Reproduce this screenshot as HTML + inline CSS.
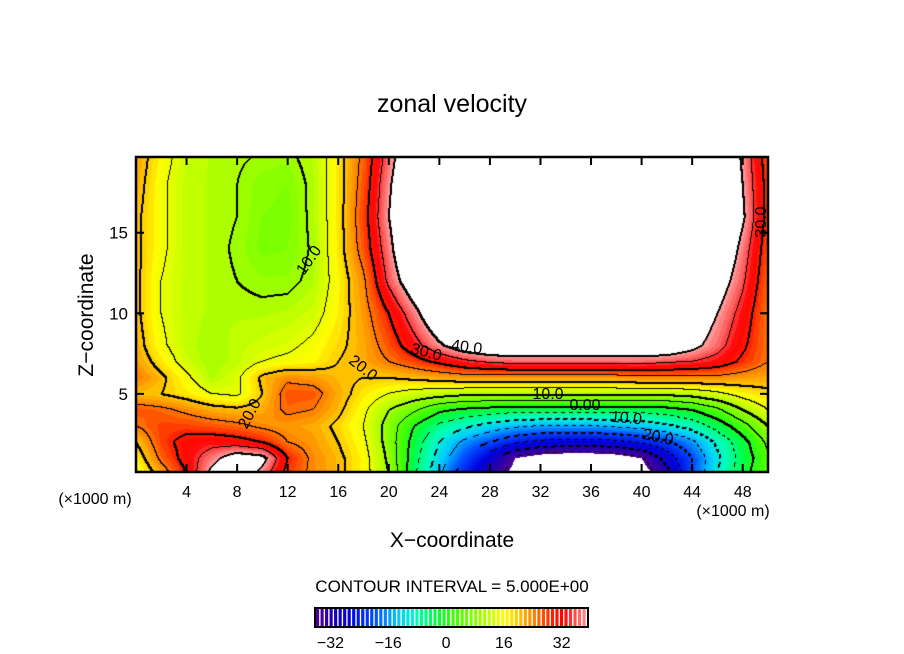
<!DOCTYPE html>
<html><head><meta charset="utf-8"><style>
body{margin:0;background:#fff;width:904px;height:654px;overflow:hidden;position:relative;font-family:"Liberation Sans",sans-serif}
</style></head><body>
<svg id="svg" width="904" height="654" style="position:absolute;left:0;top:0">
<foreignObject x="136" y="157" width="632" height="315">
<canvas id="cv" width="632" height="315" xmlns="http://www.w3.org/1999/xhtml"></canvas>
</foreignObject>
<g id="axes"></g>
<g id="cbar"></g>
<text x="452" y="112" font-size="25" text-anchor="middle" font-family="Liberation Sans">zonal velocity</text>
<text x="452" y="547" font-size="21" text-anchor="middle" font-family="Liberation Sans">X−coordinate</text>
<text x="0" y="0" font-size="21" text-anchor="middle" font-family="Liberation Sans" transform="translate(93,315) rotate(-90)">Z−coordinate</text>
<text x="95" y="504" font-size="16" text-anchor="middle" font-family="Liberation Sans">(×1000 m)</text>
<text x="733" y="516" font-size="16" text-anchor="middle" font-family="Liberation Sans">(×1000 m)</text>
<text x="452" y="592" font-size="17" text-anchor="middle" font-family="Liberation Sans">CONTOUR INTERVAL = 5.000E+00</text>
<g font-family="Liberation Sans" font-size="16">
<text transform="translate(313,263) rotate(-55)" text-anchor="middle">10.0</text>
<text transform="translate(360,372) rotate(38)" text-anchor="middle">20.0</text>
<text transform="translate(254,416) rotate(-62)" text-anchor="middle">20.0</text>
<text transform="translate(425,357) rotate(15)" text-anchor="middle">30.0</text>
<text transform="translate(466,352) rotate(8)" text-anchor="middle">40.0</text>
<text transform="translate(548,399)" text-anchor="middle">10.0</text>
<text transform="translate(585,410)" text-anchor="middle">0.00</text>
<text transform="translate(626,423) rotate(5)" text-anchor="middle">10.0</text>
<text transform="translate(657,442) rotate(12)" text-anchor="middle">20.0</text>
<text transform="translate(766,222) rotate(-90)" text-anchor="middle">30.0</text>
</g>
</svg>
<script>
const xGrid=[0,2,4,6,8,10,12,14,16,18,20,22,24,26,28,30,32,34,36,38,40,42,44,46,48,50];
const zGrid=[0,1,2,3,4,5,6,7,8,10,12,14,16,18,20];
const uZ0 =[14,22,30,42,46,38,28,24,21,17,10,-4,-14,-24,-32,-38,-42,-44,-44,-42,-39,-32,-20,-10,-2,5];
const uZ1 =[17,26,32,38,44,42,30,24,21,17,9,-3,-12,-20,-28,-36,-39,-40,-40,-39,-36,-28,-20,-11,-3,4];
const uZ2 =[20,28,32,33,32,30,25,23,20,16,8,-2,-10,-16,-20,-24,-26,-27,-27,-26,-24,-21,-16,-9,-2,6];
const uZ3 =[25,28,28,27,26,24,23,22,19,15,8,0,-6,-9,-12,-14,-15,-15,-15,-14,-13,-11,-8,-3,3,10];
const uZ4 =[27,26,24,22,21,22,26,25,21,16,10,6,1,-1,-2,-3,-3,-3,-3,-3,-3,-2,0,4,10,15];
const uZ5 =[21,20,18,15,14,20,27,27,22,18,15,13,12,11,11,11,11,11,11,11,11,11,12,14,17,19];
const uZ6 =[25,21,16,11,14,21,24,23,21,20,20,21,22,23,23,23,23,23,23,23,24,24,24,24,23,22];
const uZ7 =[23,18,13,10,12,15,16,17,20,22,25,28,31,34,36,37,37,37,37,37,37,36,35,33,29,25];
const uZ8 =[22,16,12,10,12,13,14,16,19,22,27,33,39,44,46,46,46,46,46,46,46,46,42,37,31,25];
const uZ10=[21,15,12,11,11,11,11.5,13,17.5,23,30,38,47,50,50,50,50,50,50,50,50,50,46,40,33,25];
const uZ12=[21,15,12,11,10,9,9,11,17,24,36,45,50,50,50,50,50,50,50,50,50,50,50,44,36,26];
const uZ14=[21,16,12,11,9.5,7,7.5,10.5,18,27,38,50,50,50,50,50,50,50,50,50,50,50,50,48,38,27];
const uZ16=[21,16,12,11,10,7.5,7,11,18,28,40,50,50,50,50,50,50,50,50,50,50,50,50,50,41,28];
const uZ18=[22,16,12,11,10,8,7.5,11,18,27,39,49,50,50,50,50,50,50,50,50,50,50,50,49,40,28];
const uZ20=[23,17,13,11,10.5,10,9.5,11.5,18,26,37,48,50,50,50,50,50,50,50,50,50,50,50,48,39,27];
const uRows=[uZ0,uZ1,uZ2,uZ3,uZ4,uZ5,uZ6,uZ7,uZ8,uZ10,uZ12,uZ14,uZ16,uZ18,uZ20];
const xTicks=[4,8,12,16,20,24,28,32,36,40,44,48];
const zTicks=[5,10,15];
const cbTicks=[-32,-16,0,16,32];

const X0=0,X1=50,Z0=0.15,Z1=19.7,L=136,R=768,T=157,B=472;
function sx(x){return L+(x-X0)/(X1-X0)*(R-L);}
function sz(z){return B-(z-Z0)/(Z1-Z0)*(B-T);}
const stops=[[-37,[90,0,150]],[-32,[32,0,176]],[-27,[0,0,224]],[-20,[0,80,255]],[-14,[0,200,255]],[-9,[0,255,192]],[-3,[0,255,64]],[2,[64,255,0]],[8,[144,255,0]],[13,[216,255,0]],[16,[255,255,0]],[20,[255,192,0]],[24,[255,128,0]],[29,[255,32,0]],[32,[255,0,0]],[36,[255,96,96]],[40,[255,176,176]]];
function cmap(v){
  if(v<=stops[0][0])return stops[0][1];
  for(let i=1;i<stops.length;i++){if(v<=stops[i][0]){const a=stops[i-1],b=stops[i],t=(v-a[0])/(b[0]-a[0]);return a[1].map((c,k)=>Math.round(c+(b[1][k]-c)*t));}}
  return stops[stops.length-1][1];
}
function field(x,z){
  let i=Math.min(xGrid.length-2,Math.max(0,Math.floor((x-xGrid[0])/(xGrid[1]-xGrid[0]))));
  let j=0;while(j<zGrid.length-2&&z>zGrid[j+1])j++;
  const tx=(x-xGrid[i])/(xGrid[i+1]-xGrid[i]),tz=Math.max(0,Math.min(1,(z-zGrid[j])/(zGrid[j+1]-zGrid[j])));
  const a=uRows[j][i],b=uRows[j][i+1],c=uRows[j+1][i],d=uRows[j+1][i+1];
  return (a*(1-tx)+b*tx)*(1-tz)+(c*(1-tx)+d*tx)*tz;
}
const cv=document.getElementById('cv'),ctx=cv.getContext('2d');
const W=cv.width,H=cv.height,img=ctx.createImageData(W,H),V=new Float32Array(W*H);
for(let py=0;py<H;py++)for(let px=0;px<W;px++){
  const x=X0+(px+0.5)/W*(X1-X0),z=Z1-(py+0.5)/H*(Z1-Z0);V[py*W+px]=field(x,z);}
const LO=-36,HI=40;
for(let p=0;p<W*H;p++){const v=V[p];let c;
  if(v>HI||v<LO)c=[255,255,255];else c=cmap(Math.floor(v*0.8)/0.8);
  img.data[p*4]=c[0];img.data[p*4+1]=c[1];img.data[p*4+2]=c[2];img.data[p*4+3]=255;}
function blk(px,py){if(px<0||py<0||px>=W||py>=H)return;const p=(py*W+px)*4;img.data[p]=0;img.data[p+1]=0;img.data[p+2]=0;}
for(let py=0;py<H;py++)for(let px=0;px<W;px++){
  const v=V[py*W+px],b=Math.floor(v/5);
  const nb=[[1,0],[0,1]];
  for(const [dx,dy] of nb){const qx=px+dx,qy=py+dy;if(qx>=W||qy>=H)continue;
    const b2=Math.floor(V[qy*W+qx]/5);if(b2===b)continue;
    const lev=Math.max(b,b2)*5;if(lev>40||lev<-35)continue;
    if(lev<0&&Math.floor((px+py)/4)%2===1)continue;
    blk(px,py);if(lev%10===0){blk(px+1,py);blk(px,py+1);}}
}
ctx.putImageData(img,0,0);

const NS='http://www.w3.org/2000/svg';
function mk(tag,attrs,parent){const e=document.createElementNS(NS,tag);for(const k in attrs)e.setAttribute(k,attrs[k]);parent.appendChild(e);return e;}
const ax=document.getElementById('axes');
const frame=mk('rect',{x:L,y:T,width:R-L,height:B-T,fill:'none',stroke:'#000','stroke-width':2.5},ax);


xTicks.forEach(v=>{const x=sx(v);
  const t1=mk('line',{x1:x,x2:x,y1:B,y2:B-8,stroke:'#000','stroke-width':2},ax);
  
  
  const t2=mk('line',{x1:x,x2:x,y1:T,y2:T+8,stroke:'#000','stroke-width':2},ax);
  
  
  const tx=mk('text',{x:x,y:B+25,'font-size':16,'text-anchor':'middle','font-family':'Liberation Sans'},ax);tx.textContent=v;
  
  });
zTicks.forEach(v=>{const y=sz(v);
  const t1=mk('line',{x1:L,x2:L+8,y1:y,y2:y,stroke:'#000','stroke-width':2},ax);
  
  
  const t2=mk('line',{x1:R,x2:R-8,y1:y,y2:y,stroke:'#000','stroke-width':2},ax);
  
  
  const tx=mk('text',{x:L-8,y:y+6,'font-size':17,'text-anchor':'end','font-family':'Liberation Sans'},ax);tx.textContent=v;
  
  });
const cb=document.getElementById('cbar');
const CL=316,CR=587,CT=609,CB=626,VMIN=-36,VMAX=39;
function cx(v){return CL+(v-VMIN)/(VMAX-VMIN)*(CR-CL);}
for(let v=VMIN;v<VMAX;v+=1.25){const c=cmap(v);
  const r=mk('rect',{x:cx(v),y:CT,width:(CR-CL)/(VMAX-VMIN)*1.25*0.7,height:CB-CT,fill:'rgb('+c.join(',')+')'},cb);
  
  }
const cf=mk('rect',{x:CL-1,y:CT-1,width:CR-CL+2,height:CB-CT+2,fill:'none',stroke:'#000','stroke-width':2},cb);


cbTicks.forEach(v=>{const t=mk('text',{x:cx(v),y:648,'font-size':16,'text-anchor':'middle','font-family':'Liberation Sans'},cb);
  t.textContent=v<0?'−'+(-v):String(v);
  
  });
</script>
</body></html>
